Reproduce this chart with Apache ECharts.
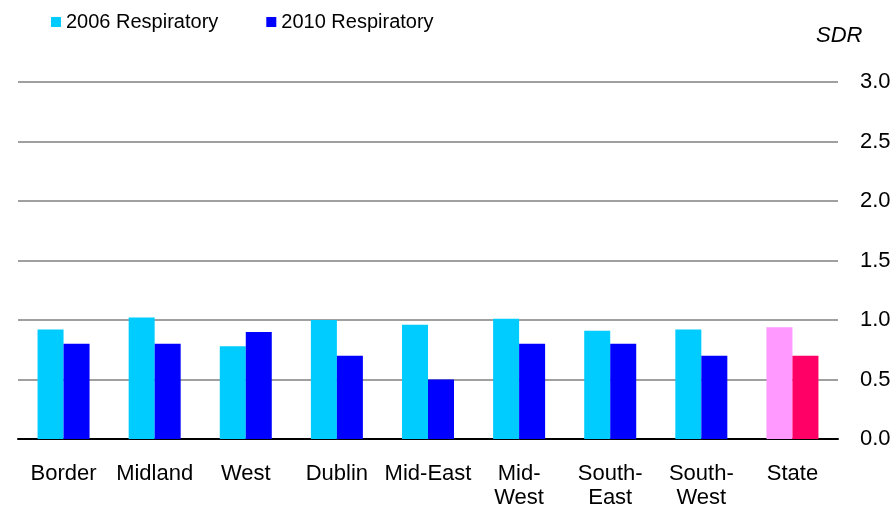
<!DOCTYPE html>
<html><head><meta charset="utf-8">
<script src="https://cdn.jsdelivr.net/npm/echarts@6/dist/echarts.min.js"></script>
<style>html,body{margin:0;padding:0;background:#fff}#c{width:894px;height:510px}</style>
</head><body><div id="c"></div>
<script>
const categories = ['Border','Midland','West','Dublin','Mid-East','Mid-\nWest','South-\nEast','South-\nWest','State'];
const resp2006 = [0.92, 1.02, 0.78, 1.00, 0.96, 1.01, 0.91, 0.92, 0.94];
const resp2010 = [0.80, 0.80, 0.90, 0.70, 0.50, 0.80, 0.80, 0.70, 0.70];
const yTicks = [0, 0.5, 1.0, 1.5, 2.0, 2.5, 3.0];

const c2006 = '#00CCFF', c2010 = '#0000FF', cState06 = '#FF99FF', cState10 = '#FF0066';
const mk = (arr, base, special) => arr.map((v, i) => i === arr.length - 1 ? {value: v, itemStyle: {color: special}} : {value: v, itemStyle: {color: base}});
const FF = 'Liberation Sans, Arial, sans-serif';

const chart = echarts.init(document.getElementById('c'));
chart.setOption({
  animation: false,
  textStyle: {fontFamily: FF},
  title: {text: 'SDR', left: 811, top: 20, textStyle: {fontSize: 22, fontStyle: 'italic', fontWeight: 'normal', color: '#000', fontFamily: FF}},
  legend: {
    left: 46, top: 7, itemWidth: 10, itemHeight: 10, itemGap: 48, icon: 'rect',
    textStyle: {fontSize: 20, color: '#000'},
    data: [{name: '2006 Respiratory', itemStyle: {color: c2006}}, {name: '2010 Respiratory', itemStyle: {color: c2010}}]
  },
  grid: {left: 18, right: 56, top: 82, bottom: 70},
  xAxis: {
    type: 'category', data: categories,
    axisLine: {lineStyle: {color: '#000', width: 2}},
    axisTick: {show: false},
    axisLabel: {fontSize: 22, color: '#000', margin: 23, lineHeight: 24, interval: 0}
  },
  yAxis: {
    type: 'value', position: 'right', min: 0, max: 3, interval: 0.5,
    axisLine: {show: false}, axisTick: {show: false},
    axisLabel: {fontSize: 22, color: '#000', margin: 22, formatter: v => v.toFixed(1)},
    splitLine: {lineStyle: {color: '#808080', width: 1.5}}
  },
  series: [
    {name: '2006 Respiratory', type: 'bar', data: mk(resp2006, c2006, cState06), barWidth: 26, barGap: '0%', itemStyle: {color: c2006}},
    {name: '2010 Respiratory', type: 'bar', data: mk(resp2010, c2010, cState10), barWidth: 26, barGap: '0%', itemStyle: {color: c2010}}
  ]
});
</script></body></html>
